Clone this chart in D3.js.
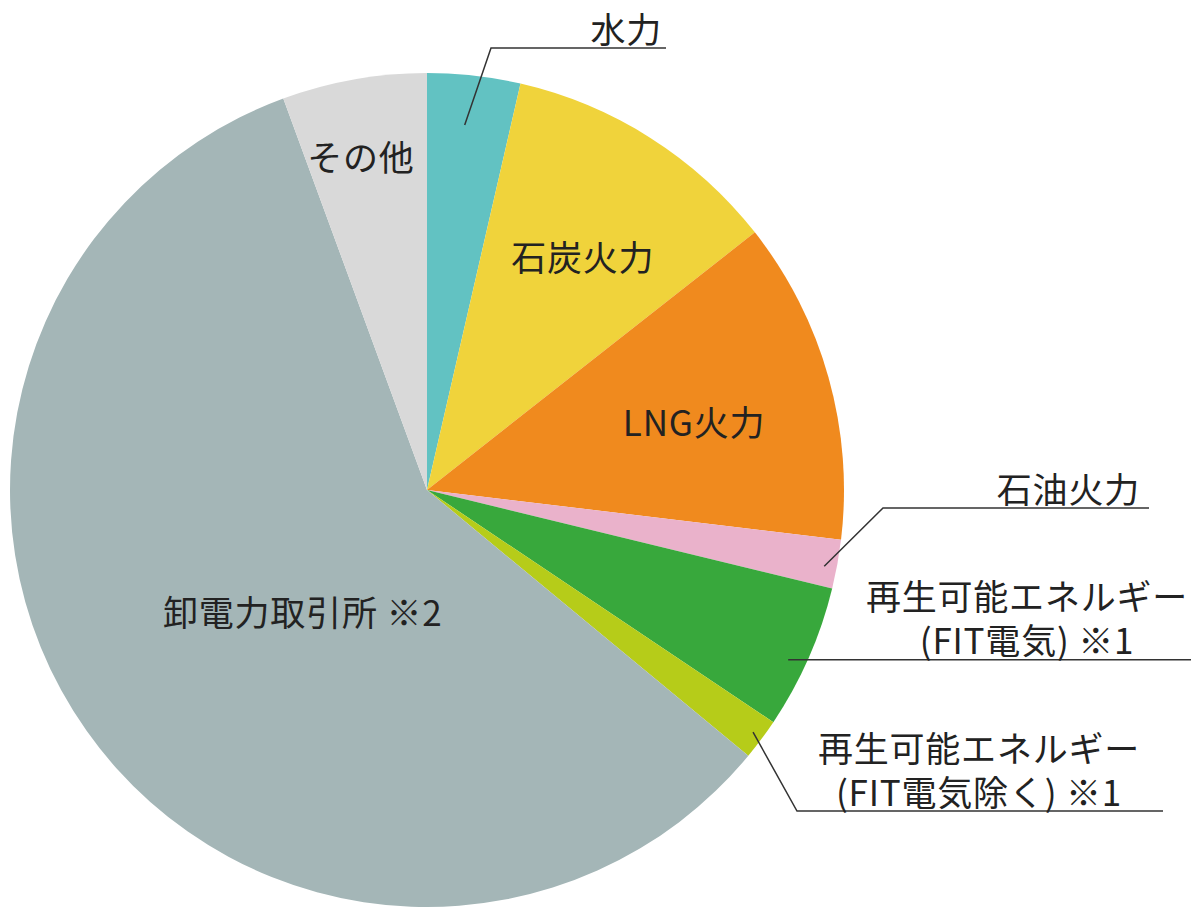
<!DOCTYPE html>
<html>
<head>
<meta charset="utf-8">
<script src="https://cdn.jsdelivr.net/npm/d3@7"></script>
<style>
  html, body { margin: 0; padding: 0; background: #fff; }
  svg { display: block; }
  text { font-family: "Noto Sans CJK JP", "Noto Sans", sans-serif; fill: #222; letter-spacing: 0.8px; }
</style>
</head>
<body>
<svg id="pie"></svg>
<script>
//  data : share of power source (%)
const sources = ["水力", "石炭火力", "LNG火力", "石油火力", "再生可能エネルギーFIT", "再生可能エネルギー", "卸電力取引所", "その他"];
const shares = [3.6, 10.8, 12.5, 1.9, 5.6, 1.6, 58.4, 5.6];
const colors = ["#62c2c2", "#f0d33b", "#f08a1e", "#eab2cb", "#38a83c", "#b6cc19", "#a4b6b7", "#d9d9d9"];

//  labels drawn inside a slice
const inner_labels = [
  { i: 1, text: ["石炭火力"], da: 1.5, rf: 0.67 },
  { i: 2, text: ["LNG火力"], da: 1.7, rf: 0.66 },
  { i: 6, text: ["卸電力取引所 ※2"], da: -9.5, rf: 0.42 },
  { i: 7, text: ["その他"], da: -1.2, rf: 0.81 }
];

//  labels outside with a leader line
const outer_labels = [
  { i: 0, text: ["水力"], frac: 0.455, rf: 0.88, elbow: [491, 48], end: 666, anchor: "end", tx: 662, ty: 30 },
  { i: 3, text: ["石油火力"], frac: 0.59, rf: 0.97, elbow: [883, 508], end: 1149, anchor: "end", tx: 1140, ty: 490 },
  { i: 4, text: ["再生可能エネルギー", "(FIT電気) ※1"], frac: 0.57, rf: 0.957, elbow: null, end: 1191, anchor: "middle", tx: 1027, ty: 597 },
  { i: 5, text: ["再生可能エネルギー", "(FIT電気除く) ※1"], frac: 0.48, rf: 0.974, elbow: [797, 811], end: 1163, anchor: "middle", tx: 979, ty: 749 }
];

function draw_pie() {
  const w = 1191
  const h = 908
  const cx = 427
  const cy = 490
  const r = 417
  const font_size = 35
  const line_h = 44

  const svg = d3.select("#pie").attr("width", w).attr("height", h)
  svg.selectAll('*').remove()

  const pie = d3.pie().sort(null).value(d => d)
  const arcs = pie(shares)
  const arc = d3.arc().innerRadius(0).outerRadius(r)

  const g = svg.append("g").attr("transform", `translate(${cx},${cy})`)

  //  draw slices
  g.selectAll("path")
   .data(arcs).enter().append("path")
   .attr("d", arc)
   .attr("fill", (_, i) => colors[i])

  //  point on the pie for an angle (radians, clockwise from top)
  const polar = (a, rad) => [cx + rad * Math.sin(a), cy - rad * Math.cos(a)]

  //  inner labels
  inner_labels.forEach(l => {
    const a = arcs[l.i]
    const ang = (a.startAngle + a.endAngle) / 2 + l.da * Math.PI / 180
    const p = polar(ang, r * l.rf)
    svg.append("text")
       .attr("x", p[0])
       .attr("y", p[1])
       .attr("dy", "0.36em")
       .attr("text-anchor", "middle")
       .style("font-size", font_size + "px")
       .text(l.text[0])
  })

  //  outer labels with leader lines
  outer_labels.forEach(l => {
    const a = arcs[l.i]
    const ang = a.startAngle + (a.endAngle - a.startAngle) * l.frac
    const p = polar(ang, r * l.rf)
    const elbow = l.elbow ? l.elbow : p
    svg.append("polyline")
       .attr("points", [p, elbow, [l.end, elbow[1]]].map(d => d.join(",")).join(" "))
       .attr("fill", "none")
       .attr("stroke", "#333")
       .attr("stroke-width", 1.5)

    const txt = svg.append("text")
       .attr("text-anchor", l.anchor)
       .style("font-size", font_size + "px")
    l.text.forEach((t, k) => {
      txt.append("tspan")
         .attr("x", l.tx)
         .attr("y", l.ty + k * line_h)
         .attr("dy", "0.36em")
         .text(t)
    })
  })
}

draw_pie();
</script>
</body>
</html>
